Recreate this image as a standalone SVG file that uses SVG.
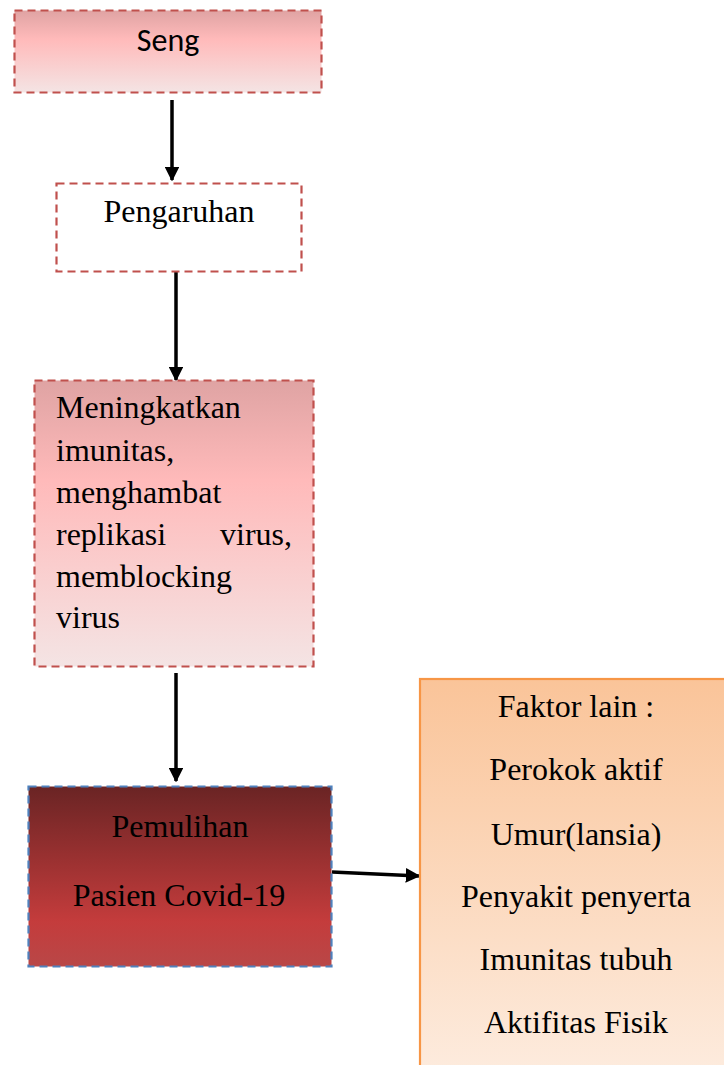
<svg xmlns="http://www.w3.org/2000/svg" width="724" height="1065" viewBox="0 0 724 1065">
<style>
.dash{stroke:#C0504D;stroke-width:2.2;stroke-dasharray:8 5;}
.t{font-family:"Liberation Serif","Times New Roman",serif;font-size:32px;fill:#000;}
.c{text-anchor:middle;}
.conn{stroke:#000;stroke-width:3.5;fill:none;}
</style>
<defs>
<linearGradient id="gPink" x1="0" y1="0" x2="0" y2="1">
<stop offset="0" stop-color="#DFA3A3"/>
<stop offset="0.35" stop-color="#FFBABA"/>
<stop offset="1" stop-color="#F4E4E4"/>
</linearGradient>
<linearGradient id="gRed" x1="0" y1="0" x2="0" y2="1">
<stop offset="0" stop-color="#6A2424"/>
<stop offset="0.75" stop-color="#C43C3C"/>
<stop offset="1" stop-color="#B94747"/>
</linearGradient>
<linearGradient id="gOrange" x1="0" y1="0" x2="0" y2="1">
<stop offset="0" stop-color="#FAC499"/>
<stop offset="1" stop-color="#FDECDF"/>
</linearGradient>
<marker id="ah" viewBox="0 0 10 10" refX="9" refY="5" markerWidth="4.2" markerHeight="4.2" orient="auto" markerUnits="strokeWidth">
<path d="M0,0 L10,5 L0,10 Z" fill="#000"/>
</marker>
</defs>

<g id="connectors">
<line class="conn" x1="172" y1="100" x2="172" y2="180" marker-end="url(#ah)"/>
<line class="conn" x1="176" y1="271" x2="176" y2="380" marker-end="url(#ah)"/>
<line class="conn" x1="176" y1="673" x2="176" y2="781" marker-end="url(#ah)"/>
<line class="conn" x1="332" y1="872" x2="419" y2="876" marker-end="url(#ah)"/>
</g>

<g id="node-seng">
<rect class="dash" x="14.5" y="10.5" width="307" height="82" fill="url(#gPink)"/>
<text x="168" y="51" text-anchor="middle" font-family="Carlito,'Liberation Sans','Open Sans',sans-serif" font-size="32" fill="#000">Seng</text>
</g>

<g id="node-pengaruhan">
<rect class="dash" x="56.5" y="183.5" width="245" height="88" fill="#fff"/>
<text class="t c" x="179" y="222">Pengaruhan</text>
</g>

<g id="node-meningkatkan">
<rect class="dash" x="34.5" y="380.5" width="279" height="286" fill="url(#gPink)"/>
<text class="t" x="56" y="418">Meningkatkan</text>
<text class="t" x="56" y="461">imunitas,</text>
<text class="t" x="56" y="503">menghambat</text>
<text class="t" x="56" y="545">replikasi</text>
<text class="t" x="292" y="545" text-anchor="end">virus,</text>
<text class="t" x="56" y="587">memblocking</text>
<text class="t" x="56" y="628">virus</text>
</g>

<g id="node-pemulihan">
<rect x="28.5" y="786.5" width="303" height="180" fill="url(#gRed)" stroke="#4F81BD" stroke-width="2.2" stroke-dasharray="8 5"/>
<text class="t c" x="180" y="837">Pemulihan</text>
<text class="t c" x="179" y="906">Pasien Covid-19</text>
</g>

<g id="node-faktor">
<rect x="420" y="679" width="330" height="400" fill="url(#gOrange)" stroke="#F79646" stroke-width="2.2"/>
<text class="t c" x="576" y="717">Faktor lain :</text>
<text class="t c" x="576" y="780">Perokok aktif</text>
<text class="t c" x="576" y="845">Umur(lansia)</text>
<text class="t c" x="576" y="907">Penyakit penyerta</text>
<text class="t c" x="576" y="970">Imunitas tubuh</text>
<text class="t c" x="576" y="1033">Aktifitas Fisik</text>
</g>
</svg>
